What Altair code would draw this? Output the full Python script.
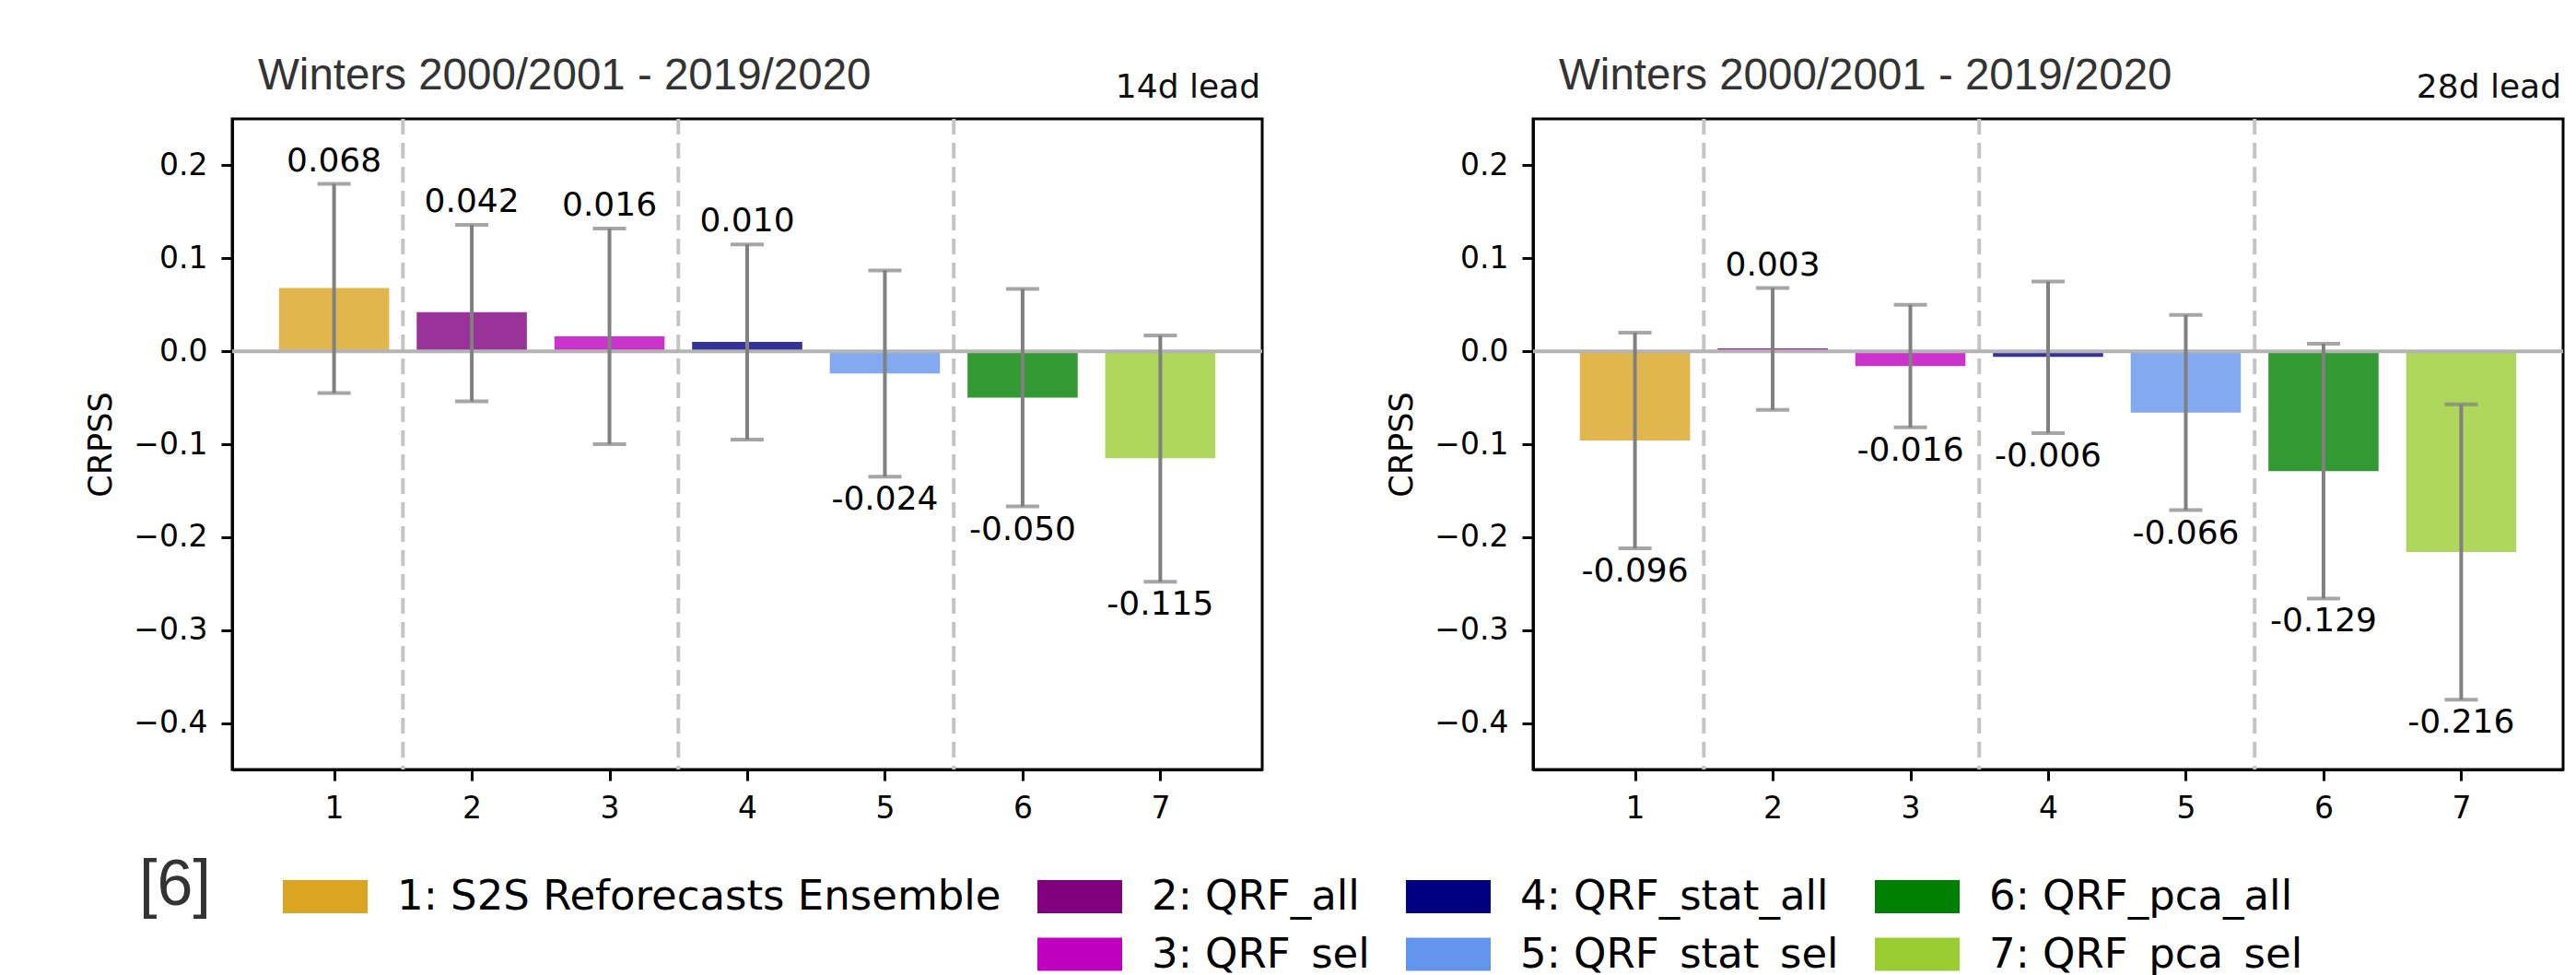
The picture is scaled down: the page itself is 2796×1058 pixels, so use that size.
import altair as alt
import pandas as pd

# ---------------- data ----------------
categories = [1, 2, 3, 4, 5, 6, 7]
model_names = [
    "1: S2S Reforecasts Ensemble",
    "2: QRF_all",
    "3: QRF_sel",
    "4: QRF_stat_all",
    "5: QRF_stat_sel",
    "6: QRF_pca_all",
    "7: QRF_pca_sel",
]
model_colors = ["#DAA520", "#800080", "#BF00BF", "#000080", "#6495ED", "#008000", "#9ACD32"]

crpss_14d = [0.068, 0.042, 0.016, 0.010, -0.024, -0.050, -0.115]
lower_14d = [-0.045, -0.054, -0.100, -0.095, -0.135, -0.167, -0.248]
upper_14d = [0.180, 0.136, 0.132, 0.115, 0.087, 0.067, 0.017]

crpss_28d = [-0.096, 0.003, -0.016, -0.006, -0.066, -0.129, -0.216]
lower_28d = [-0.212, -0.063, -0.082, -0.088, -0.171, -0.266, -0.375]
upper_28d = [0.020, 0.068, 0.050, 0.075, 0.039, 0.008, -0.057]

separators = [1.5, 3.5, 5.5]
zero_line = [0.0]
y_ticks = [0.2, 0.1, 0.0, -0.1, -0.2, -0.3, -0.4]
x_domain = [0.26, 7.74]
y_domain = [-0.45, 0.25]
bar_half_width = 0.4

period_titles = ["Winters 2000/2001 - 2019/2020", "Winters 2000/2001 - 2019/2020"]
lead_labels = ["14d lead", "28d lead"]
legend_title = "[6]"

# legend grid (filled column by column, 2 rows; blank cell under item 1)
blank = " "
legend_order = [model_names[0], blank, model_names[1], model_names[2],
                model_names[3], model_names[4], model_names[5], model_names[6]]
legend_colors = [model_colors[0], "transparent", model_colors[1], model_colors[2],
                 model_colors[3], model_colors[4], model_colors[5], model_colors[6]]

PANEL_W = 1118
PANEL_H = 706

x_scale = alt.Scale(domain=x_domain, nice=False, zero=False)
y_scale = alt.Scale(domain=y_domain, nice=False, zero=False)
x_axis = alt.Axis(values=categories, format="d", title=None)
y_axis = alt.Axis(values=y_ticks, format=".1f", title="CRPSS")

color_scale = alt.Scale(domain=legend_order, range=legend_colors)
legend = alt.Legend(
    orient="none", legendX=-101, legendY=815, columns=4, values=legend_order,
    title=legend_title, titleOrient="left", titleAnchor="start",
    titleBaseline="line-top", titleLineHeight=35.5,
    titleFont="Liberation Sans", titleFontSize=70, titleFontWeight="normal",
    titleColor="#333333", titlePadding=95,
    symbolType="M-1.6,-0.63H1.6V0.63H-1.6Z", symbolSize=3306, symbolOpacity=1,
    symbolStrokeWidth=0, labelFont="DejaVu Sans", labelFontSize=45,
    labelColor="black", labelLimit=2000, labelOffset=49, columnPadding=39,
    rowPadding=10.5,
)


def X(field):
    return alt.X(field, type="quantitative", scale=x_scale, axis=x_axis)


def Y(field):
    return alt.Y(field, type="quantitative", scale=y_scale, axis=y_axis)


def panel(values, lower, upper, period, lead):
    df = pd.DataFrame({
        "pos": categories, "model": model_names,
        "crpss": values, "lo": lower, "hi": upper,
    })
    df["label"] = [f"{v:.3f}" for v in values]
    base = alt.Chart(df)

    bars = base.transform_calculate(
        x0=f"datum.pos - {bar_half_width}", x1=f"datum.pos + {bar_half_width}"
    ).mark_rect(opacity=0.8).encode(
        x=X("x0"), x2="x1:Q",
        y=Y("crpss"), y2=alt.datum(0),
        color=alt.Color("model:N", scale=color_scale, legend=legend),
    )
    seps = alt.Chart(pd.DataFrame({"sep": separators})).mark_rule(
        color="#c4c4c4", strokeWidth=4, strokeDash=[17, 9]
    ).encode(x=X("sep"))
    zero = alt.Chart(pd.DataFrame({"zero": zero_line})).mark_rule(
        color="#b4b4b4", strokeWidth=4
    ).encode(y=Y("zero"))
    err = base.mark_rule(color="#808080", strokeWidth=4).encode(
        x=X("pos"), y=Y("lo"), y2="hi:Q"
    )
    cap_hi = base.mark_tick(orient="horizontal", size=36, thickness=4, color="#808080").encode(
        x=X("pos"), y=Y("hi")
    )
    cap_lo = base.mark_tick(orient="horizontal", size=36, thickness=4, color="#808080").encode(
        x=X("pos"), y=Y("lo")
    )
    lab_pos = base.transform_filter("datum.crpss >= 0").mark_text(
        baseline="alphabetic", dy=-14, fontSize=36, font="DejaVu Sans", color="black"
    ).encode(x=X("pos"), y=Y("hi"), text="label:N")
    lab_neg = base.transform_filter("datum.crpss < 0").mark_text(
        baseline="alphabetic", dy=36, fontSize=36, font="DejaVu Sans", color="black"
    ).encode(x=X("pos"), y=Y("lo"), text="label:N")
    lead_txt = alt.Chart(pd.DataFrame({"lead": [lead]})).mark_text(
        align="right", baseline="alphabetic", dy=-23, fontSize=36,
        font="DejaVu Sans", color="#111111"
    ).encode(x=alt.value(PANEL_W - 2), y=alt.value(0), text="lead:N")
    title_txt = alt.Chart(pd.DataFrame({"period": [period]})).mark_text(
        align="left", baseline="alphabetic", dy=-32, fontSize=47.5,
        font="Liberation Sans", color="#333333"
    ).encode(x=alt.value(28), y=alt.value(0), text="period:N")

    return alt.layer(
        seps, bars, zero, err, cap_hi, cap_lo, lab_pos, lab_neg, lead_txt, title_txt
    ).properties(width=PANEL_W, height=PANEL_H)


left = panel(crpss_14d, lower_14d, upper_14d, period_titles[0], lead_labels[0])
right = panel(crpss_28d, lower_28d, upper_28d, period_titles[1], lead_labels[1])

chart = alt.hconcat(left, right, spacing=129).properties(
    padding={"left": 91, "top": 57, "right": 0, "bottom": 0},
    background="white",
).configure_view(
    stroke="black", strokeWidth=3
).configure_axis(
    grid=False, domain=True, domainColor="black", domainWidth=3,
    tickColor="black", tickWidth=3, tickSize=12,
    labelFont="DejaVu Sans", labelFontSize=33, labelColor="black",
    titleFont="DejaVu Sans", titleFontSize=35, titleFontWeight="normal",
    titleColor="black",
).configure_axisY(
    labelPadding=15, titlePadding=17
).configure_axisX(
    labelPadding=14
)

chart.save("out.html", embed_options={"renderer": "svg", "actions": False})
